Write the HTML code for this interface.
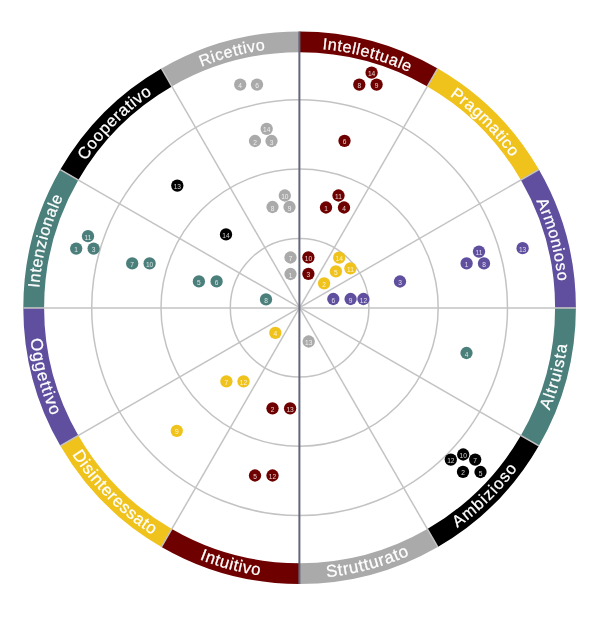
<!DOCTYPE html>
<html lang="it"><head><meta charset="utf-8"><title>Grafico</title>
<style>html,body{margin:0;padding:0;background:#fff}body{width:600px;height:617px;overflow:hidden}svg{display:block}.lab{font-family:"Liberation Sans",Arial,sans-serif;font-size:17px;letter-spacing:0.6px;fill:#fff;stroke:#fff;stroke-width:0.25px}.n{font-family:"Liberation Sans",Arial,sans-serif;font-size:6.6px;fill:#fff;fill-opacity:0.8;text-anchor:middle}</style></head><body>
<svg width="600" height="617" viewBox="0 0 600 617">
<rect width="600" height="617" fill="#fff"/>
<filter id="soft" x="0" y="0" width="600" height="617" filterUnits="userSpaceOnUse"><feGaussianBlur stdDeviation="0.75"/></filter>
<g id="chart" filter="url(#soft)">
<circle cx="299.6" cy="307.7" r="69.3" fill="none" stroke="#c3c3c3" stroke-width="1.5"/>
<circle cx="299.6" cy="307.7" r="138.6" fill="none" stroke="#c3c3c3" stroke-width="1.5"/>
<circle cx="299.6" cy="307.7" r="207.9" fill="none" stroke="#c3c3c3" stroke-width="1.5"/>
<path d="M299.60 31.40A276.3 276.3 0 0 1 437.75 68.42L427.35 86.43A255.5 255.5 0 0 0 299.60 52.20Z" fill="#6e0300"/>
<path d="M437.75 68.42A276.3 276.3 0 0 1 538.88 169.55L520.87 179.95A255.5 255.5 0 0 0 427.35 86.43Z" fill="#f0c21d"/>
<path d="M538.88 169.55A276.3 276.3 0 0 1 575.90 307.70L555.10 307.70A255.5 255.5 0 0 0 520.87 179.95Z" fill="#5f4f9e"/>
<path d="M575.90 307.70A276.3 276.3 0 0 1 538.88 445.85L520.87 435.45A255.5 255.5 0 0 0 555.10 307.70Z" fill="#4b7f7b"/>
<path d="M538.88 445.85A276.3 276.3 0 0 1 437.75 546.98L427.35 528.97A255.5 255.5 0 0 0 520.87 435.45Z" fill="#000000"/>
<path d="M437.75 546.98A276.3 276.3 0 0 1 299.60 584.00L299.60 563.20A255.5 255.5 0 0 0 427.35 528.97Z" fill="#aaaaaa"/>
<path d="M299.60 584.00A276.3 276.3 0 0 1 161.45 546.98L171.85 528.97A255.5 255.5 0 0 0 299.60 563.20Z" fill="#6e0300"/>
<path d="M161.45 546.98A276.3 276.3 0 0 1 60.32 445.85L78.33 435.45A255.5 255.5 0 0 0 171.85 528.97Z" fill="#f0c21d"/>
<path d="M60.32 445.85A276.3 276.3 0 0 1 23.30 307.70L44.10 307.70A255.5 255.5 0 0 0 78.33 435.45Z" fill="#5f4f9e"/>
<path d="M23.30 307.70A276.3 276.3 0 0 1 60.32 169.55L78.33 179.95A255.5 255.5 0 0 0 44.10 307.70Z" fill="#4b7f7b"/>
<path d="M60.32 169.55A276.3 276.3 0 0 1 161.45 68.42L171.85 86.43A255.5 255.5 0 0 0 78.33 179.95Z" fill="#000000"/>
<path d="M161.45 68.42A276.3 276.3 0 0 1 299.60 31.40L299.60 52.20A255.5 255.5 0 0 0 171.85 86.43Z" fill="#aaaaaa"/>
<line x1="299.6" y1="307.70" x2="437.75" y2="68.42" stroke="#c3c3c3" stroke-width="1.5"/>
<line x1="299.6" y1="307.70" x2="538.88" y2="169.55" stroke="#c3c3c3" stroke-width="1.5"/>
<line x1="299.6" y1="308.00" x2="575.90" y2="308.00" stroke="#c3c3c3" stroke-width="1.5"/>
<line x1="299.6" y1="307.70" x2="538.88" y2="445.85" stroke="#c3c3c3" stroke-width="1.5"/>
<line x1="299.6" y1="307.70" x2="437.75" y2="546.98" stroke="#c3c3c3" stroke-width="1.5"/>
<line x1="299.6" y1="307.70" x2="161.45" y2="546.98" stroke="#c3c3c3" stroke-width="1.5"/>
<line x1="299.6" y1="307.70" x2="60.32" y2="445.85" stroke="#c3c3c3" stroke-width="1.5"/>
<line x1="299.6" y1="308.00" x2="23.30" y2="308.00" stroke="#c3c3c3" stroke-width="1.5"/>
<line x1="299.6" y1="307.70" x2="60.32" y2="169.55" stroke="#c3c3c3" stroke-width="1.5"/>
<line x1="299.6" y1="307.70" x2="161.45" y2="68.42" stroke="#c3c3c3" stroke-width="1.5"/>
<line x1="299.40" y1="31.4" x2="299.40" y2="584.0" stroke="#62677a" stroke-width="2"/>
<defs>
<path id="lp0" d="M299.60 48.20A259.50 259.50 0 0 1 429.35 82.97"/>
<path id="lp1" d="M429.45 82.79A259.70 259.70 0 0 1 524.51 177.85"/>
<path id="lp2" d="M524.51 177.85A259.70 259.70 0 0 1 559.30 307.70"/>
<path id="lp3" d="M533.60 442.80A270.20 270.20 0 0 0 569.80 307.70"/>
<path id="lp4" d="M433.56 543.04A270.80 270.80 0 0 0 533.29 444.53"/>
<path id="lp5" d="M299.13 578.50A270.80 270.80 0 0 0 434.59 542.46"/>
<path id="lp6" d="M164.20 542.22A270.80 270.80 0 0 0 299.60 578.50"/>
<path id="lp7" d="M65.08 443.10A270.80 270.80 0 0 0 164.20 542.22"/>
<path id="lp8" d="M28.80 308.65A270.80 270.80 0 0 0 65.55 443.92"/>
<path id="lp9" d="M38.50 308.84A261.10 261.10 0 0 1 72.91 178.14"/>
<path id="lp10" d="M74.78 177.90A259.60 259.60 0 0 1 169.80 82.88"/>
<path id="lp11" d="M170.34 81.99A260.10 260.10 0 0 1 300.51 47.60"/>
</defs>
<text class="lab" style="font-size:16.2px;letter-spacing:0.6px"><textPath href="#lp0" startOffset="50%" text-anchor="middle">Intellettuale</textPath></text>
<text class="lab" style="font-size:16.2px;letter-spacing:0.6px"><textPath href="#lp1" startOffset="50%" text-anchor="middle">Pragmatico</textPath></text>
<text class="lab" style="font-size:16.2px;letter-spacing:0.75px"><textPath href="#lp2" startOffset="50%" text-anchor="middle">Armonioso</textPath></text>
<text class="lab" style="font-size:16.4px;letter-spacing:1.1px"><textPath href="#lp3" startOffset="50%" text-anchor="middle">Altruista</textPath></text>
<text class="lab" style="font-size:16.5px;letter-spacing:1.05px"><textPath href="#lp4" startOffset="50%" text-anchor="middle">Ambizioso</textPath></text>
<text class="lab" style="font-size:17px;letter-spacing:0.65px"><textPath href="#lp5" startOffset="50%" text-anchor="middle">Strutturato</textPath></text>
<text class="lab" style="font-size:16.7px;letter-spacing:0.6px"><textPath href="#lp6" startOffset="50%" text-anchor="middle">Intuitivo</textPath></text>
<text class="lab" style="font-size:16.8px;letter-spacing:0.6px"><textPath href="#lp7" startOffset="50%" text-anchor="middle">Disinteressato</textPath></text>
<text class="lab" style="font-size:16.8px;letter-spacing:1.0px"><textPath href="#lp8" startOffset="50%" text-anchor="middle">Oggettivo</textPath></text>
<text class="lab" style="font-size:16.3px;letter-spacing:0.6px"><textPath href="#lp9" startOffset="50%" text-anchor="middle">Intenzionale</textPath></text>
<text class="lab" style="font-size:16.5px;letter-spacing:0.6px"><textPath href="#lp10" startOffset="50%" text-anchor="middle">Cooperativo</textPath></text>
<text class="lab" style="font-size:16px;letter-spacing:0.6px"><textPath href="#lp11" startOffset="50%" text-anchor="middle">Ricettivo</textPath></text>
<circle cx="240.2" cy="84.6" r="6.15" fill="#aaaaaa"/><text class="n" x="240.2" y="88.1">4</text>
<circle cx="257" cy="84.6" r="6.15" fill="#aaaaaa"/><text class="n" x="257" y="88.1">6</text>
<circle cx="266.7" cy="128.8" r="6.15" fill="#aaaaaa"/><text class="n" x="266.7" y="132.3">14</text>
<circle cx="255" cy="141" r="6.15" fill="#aaaaaa"/><text class="n" x="255" y="144.5">2</text>
<circle cx="271.5" cy="141" r="6.15" fill="#aaaaaa"/><text class="n" x="271.5" y="144.5">3</text>
<circle cx="284.8" cy="195.5" r="6.15" fill="#aaaaaa"/><text class="n" x="284.8" y="199.0">10</text>
<circle cx="272.5" cy="207" r="6.15" fill="#aaaaaa"/><text class="n" x="272.5" y="210.5">8</text>
<circle cx="289.5" cy="207" r="6.15" fill="#aaaaaa"/><text class="n" x="289.5" y="210.5">9</text>
<circle cx="290.5" cy="257.5" r="6.15" fill="#aaaaaa"/><text class="n" x="290.5" y="261.0">7</text>
<circle cx="290.5" cy="274" r="6.15" fill="#aaaaaa"/><text class="n" x="290.5" y="277.5">1</text>
<circle cx="177.3" cy="185.6" r="6.15" fill="#000000"/><text class="n" x="177.3" y="189.1">13</text>
<circle cx="226" cy="234.4" r="6.15" fill="#000000"/><text class="n" x="226" y="237.9">14</text>
<circle cx="88" cy="236.2" r="6.15" fill="#4b7f7b"/><text class="n" x="88" y="239.7">11</text>
<circle cx="76.2" cy="248.6" r="6.15" fill="#4b7f7b"/><text class="n" x="76.2" y="252.1">1</text>
<circle cx="93.6" cy="248.6" r="6.15" fill="#4b7f7b"/><text class="n" x="93.6" y="252.1">3</text>
<circle cx="132.2" cy="263.4" r="6.15" fill="#4b7f7b"/><text class="n" x="132.2" y="266.9">7</text>
<circle cx="149.6" cy="263.4" r="6.15" fill="#4b7f7b"/><text class="n" x="149.6" y="266.9">10</text>
<circle cx="198.9" cy="281.4" r="6.15" fill="#4b7f7b"/><text class="n" x="198.9" y="284.9">5</text>
<circle cx="216.6" cy="281.4" r="6.15" fill="#4b7f7b"/><text class="n" x="216.6" y="284.9">6</text>
<circle cx="266" cy="299.4" r="6.15" fill="#4b7f7b"/><text class="n" x="266" y="302.9">8</text>
<circle cx="371.6" cy="72.7" r="6.15" fill="#6e0300"/><text class="n" x="371.6" y="76.2">14</text>
<circle cx="359.3" cy="84.6" r="6.15" fill="#6e0300"/><text class="n" x="359.3" y="88.1">8</text>
<circle cx="376.6" cy="84.6" r="6.15" fill="#6e0300"/><text class="n" x="376.6" y="88.1">9</text>
<circle cx="344.5" cy="140.8" r="6.15" fill="#6e0300"/><text class="n" x="344.5" y="144.3">6</text>
<circle cx="338.5" cy="195.5" r="6.15" fill="#6e0300"/><text class="n" x="338.5" y="199.0">11</text>
<circle cx="326" cy="207.5" r="6.15" fill="#6e0300"/><text class="n" x="326" y="211.0">1</text>
<circle cx="344" cy="207.5" r="6.15" fill="#6e0300"/><text class="n" x="344" y="211.0">4</text>
<circle cx="308.4" cy="257.4" r="6.15" fill="#6e0300"/><text class="n" x="308.4" y="260.9">10</text>
<circle cx="308.4" cy="273.8" r="6.15" fill="#6e0300"/><text class="n" x="308.4" y="277.3">3</text>
<circle cx="339.2" cy="257.7" r="6.15" fill="#f0c21d"/><text class="n" x="339.2" y="261.2">14</text>
<circle cx="335.9" cy="271.4" r="6.15" fill="#f0c21d"/><text class="n" x="335.9" y="274.9">5</text>
<circle cx="350.4" cy="268.3" r="6.15" fill="#f0c21d"/><text class="n" x="350.4" y="271.8">11</text>
<circle cx="324.1" cy="283.3" r="6.15" fill="#f0c21d"/><text class="n" x="324.1" y="286.8">2</text>
<circle cx="479" cy="251.6" r="6.15" fill="#5f4f9e"/><text class="n" x="479" y="255.1">11</text>
<circle cx="466.6" cy="263.4" r="6.15" fill="#5f4f9e"/><text class="n" x="466.6" y="266.9">1</text>
<circle cx="484" cy="263.4" r="6.15" fill="#5f4f9e"/><text class="n" x="484" y="266.9">8</text>
<circle cx="522.6" cy="248.2" r="6.15" fill="#5f4f9e"/><text class="n" x="522.6" y="251.7">13</text>
<circle cx="400" cy="281.5" r="6.15" fill="#5f4f9e"/><text class="n" x="400" y="285.0">3</text>
<circle cx="333.3" cy="299" r="6.15" fill="#5f4f9e"/><text class="n" x="333.3" y="302.5">6</text>
<circle cx="350.6" cy="299" r="6.15" fill="#5f4f9e"/><text class="n" x="350.6" y="302.5">9</text>
<circle cx="363.4" cy="299" r="6.15" fill="#5f4f9e"/><text class="n" x="363.4" y="302.5">12</text>
<circle cx="275.3" cy="332.8" r="6.15" fill="#f0c21d"/><text class="n" x="275.3" y="336.3">4</text>
<circle cx="226.4" cy="381.3" r="6.15" fill="#f0c21d"/><text class="n" x="226.4" y="384.8">7</text>
<circle cx="243.5" cy="381.3" r="6.15" fill="#f0c21d"/><text class="n" x="243.5" y="384.8">12</text>
<circle cx="176.8" cy="430.8" r="6.15" fill="#f0c21d"/><text class="n" x="176.8" y="434.3">9</text>
<circle cx="272.5" cy="408.3" r="6.15" fill="#6e0300"/><text class="n" x="272.5" y="411.8">2</text>
<circle cx="290.1" cy="408.3" r="6.15" fill="#6e0300"/><text class="n" x="290.1" y="411.8">13</text>
<circle cx="255" cy="475.5" r="6.15" fill="#6e0300"/><text class="n" x="255" y="479.0">5</text>
<circle cx="272.5" cy="475.5" r="6.15" fill="#6e0300"/><text class="n" x="272.5" y="479.0">12</text>
<circle cx="308.7" cy="341.5" r="6.15" fill="#aaaaaa"/><text class="n" x="308.7" y="345.0">13</text>
<circle cx="466.5" cy="353" r="6.15" fill="#4b7f7b"/><text class="n" x="466.5" y="356.5">4</text>
<circle cx="450.8" cy="459.6" r="6.15" fill="#000000"/><text class="n" x="450.8" y="463.1">12</text>
<circle cx="463.2" cy="454.5" r="6.15" fill="#000000"/><text class="n" x="463.2" y="458.0">10</text>
<circle cx="475.2" cy="459.6" r="6.15" fill="#000000"/><text class="n" x="475.2" y="463.1">7</text>
<circle cx="463.0" cy="471.8" r="6.15" fill="#000000"/><text class="n" x="463.0" y="475.3">2</text>
<circle cx="480.5" cy="472" r="6.15" fill="#000000"/><text class="n" x="480.5" y="475.5">5</text>
</g></svg></body></html>
